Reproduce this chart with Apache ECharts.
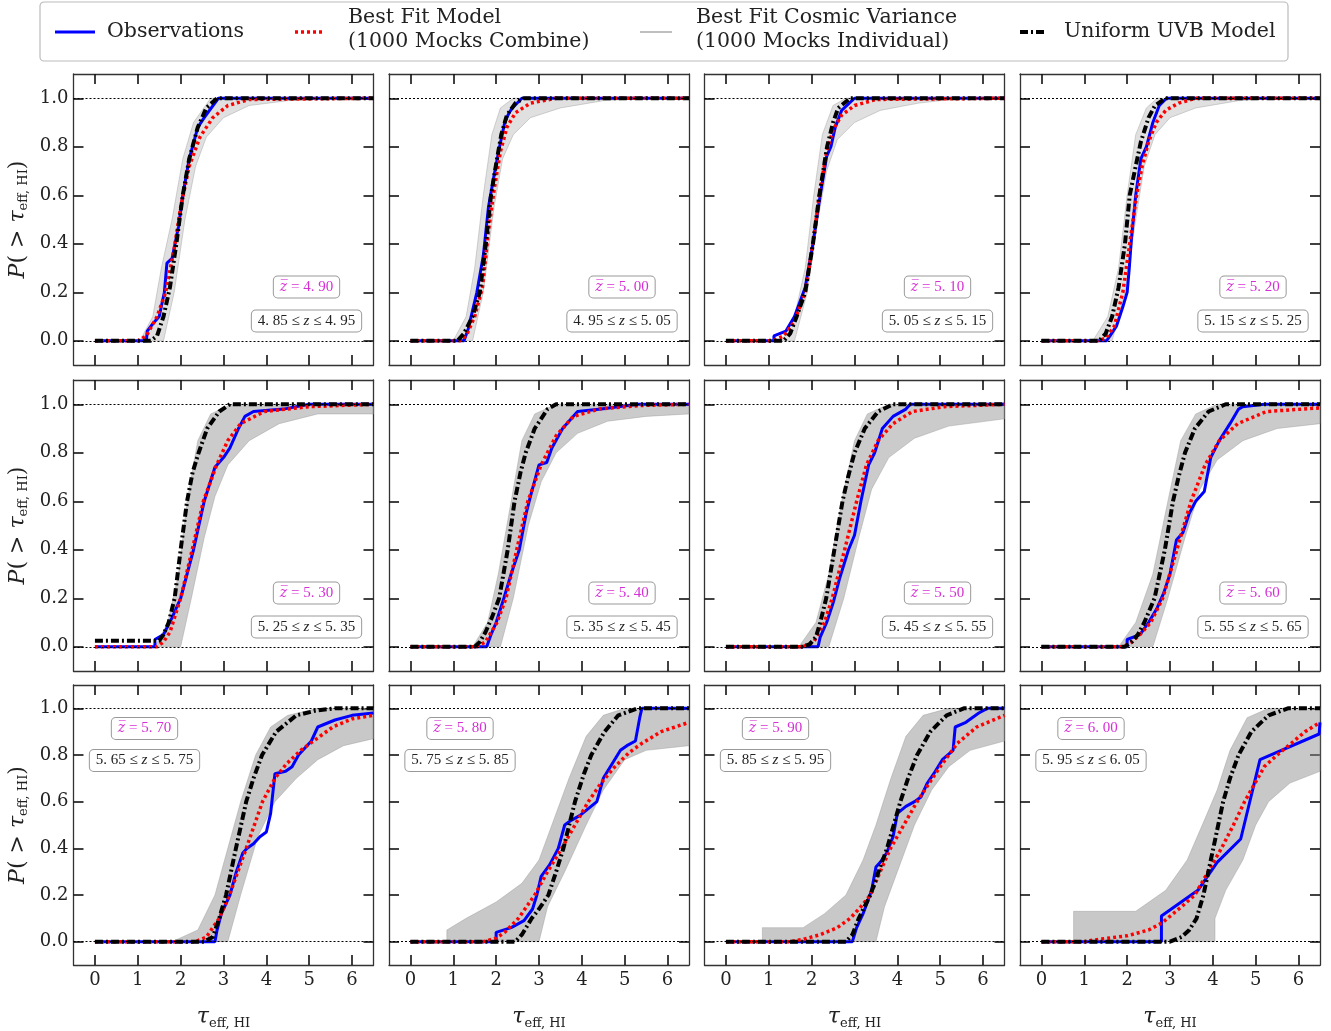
<!DOCTYPE html>
<html>
<head>
<meta charset="utf-8">
<script src="https://cdn.jsdelivr.net/npm/echarts@6/dist/echarts.min.js"></script>
<style>
  html, body { margin: 0; padding: 0; background: #fff; }
  #main { width: 1331px; height: 1031px; }
</style>
</head>
<body>
<div id="main"></div>
<script>
// tick values
const xTicks = [0, 1, 2, 3, 4, 5, 6];
const yTicks = [0.0, 0.2, 0.4, 0.6, 0.8, 1.0];

// redshift bins, one per panel
const zMeans = [4.90, 5.00, 5.10, 5.20, 5.30, 5.40, 5.50, 5.60, 5.70, 5.80, 5.90, 6.00];
const zLow   = [4.85, 4.95, 5.05, 5.15, 5.25, 5.35, 5.45, 5.55, 5.65, 5.75, 5.85, 5.95];
const zHigh  = [4.95, 5.05, 5.15, 5.25, 5.35, 5.45, 5.55, 5.65, 5.75, 5.85, 5.95, 6.05];

// observed P(>tau) curves [tau, P]
const observations = [
  [[0,0],[1.2,0],[1.22,0.04],[1.35,0.07],[1.5,0.1],[1.62,0.2],[1.68,0.32],[1.8,0.34],[1.95,0.47],[2.05,0.6],[2.2,0.75],[2.4,0.88],[2.55,0.92],[2.88,1.0],[6.5,1.0]],
  [[0,0],[1.25,0],[1.35,0.05],[1.55,0.2],[1.7,0.35],[1.82,0.55],[1.95,0.68],[2.08,0.8],[2.2,0.9],[2.3,0.94],[2.38,0.96],[2.6,1.0],[6.5,1.0]],
  [[0,0],[1.12,0],[1.12,0.02],[1.4,0.04],[1.6,0.1],[1.85,0.22],[2.03,0.4],[2.2,0.6],[2.35,0.76],[2.45,0.8],[2.55,0.88],[2.7,0.95],[3.0,1.0],[6.5,1.0]],
  [[0,0],[1.52,0],[1.6,0.02],[1.75,0.06],[1.9,0.14],[2.0,0.2],[2.05,0.3],[2.1,0.42],[2.2,0.6],[2.32,0.75],[2.45,0.8],[2.6,0.9],[2.75,0.97],[2.92,1.0],[6.5,1.0]],
  [[0,0],[1.4,0],[1.4,0.03],[1.6,0.05],[1.8,0.12],[2.0,0.2],[2.3,0.4],[2.55,0.6],[2.8,0.74],[3.0,0.78],[3.15,0.82],[3.35,0.9],[3.5,0.95],[3.7,0.97],[4.4,0.98],[5.0,1.0],[6.5,1.0]],
  [[0,0],[1.78,0],[1.88,0.05],[2.0,0.1],[2.18,0.2],[2.35,0.3],[2.54,0.4],[2.7,0.55],[2.8,0.62],[3.0,0.75],[3.18,0.76],[3.3,0.82],[3.55,0.9],[3.9,0.97],[4.45,0.98],[5.3,1.0],[6.5,1.0]],
  [[0,0],[2.15,0],[2.2,0.04],[2.35,0.1],[2.5,0.18],[2.65,0.28],[2.86,0.4],[3.0,0.46],[3.15,0.6],[3.33,0.75],[3.47,0.8],[3.65,0.9],[3.9,0.95],[4.2,0.98],[4.3,1.0],[6.5,1.0]],
  [[0,0],[2.0,0],[2.0,0.03],[2.3,0.05],[2.5,0.1],[2.7,0.16],[2.85,0.22],[3.0,0.3],[3.15,0.44],[3.3,0.47],[3.45,0.55],[3.6,0.6],[3.8,0.64],[3.95,0.78],[4.15,0.85],[4.4,0.92],[4.6,0.98],[4.7,0.99],[5.2,1.0],[6.5,1.0]],
  [[0,0],[2.8,0],[2.85,0.05],[2.95,0.12],[3.15,0.2],[3.3,0.3],[3.45,0.38],[3.55,0.4],[3.7,0.42],[3.85,0.45],[4.0,0.47],[4.1,0.55],[4.2,0.72],[4.45,0.73],[4.6,0.75],[4.75,0.8],[4.9,0.83],[5.05,0.86],[5.2,0.92],[5.6,0.95],[6.0,0.97],[6.5,0.98]],
  [[0,0],[2.0,0],[2.0,0.04],[2.35,0.06],[2.65,0.09],[2.85,0.14],[2.95,0.2],[3.05,0.28],[3.25,0.33],[3.45,0.4],[3.6,0.5],[3.75,0.52],[3.95,0.54],[4.15,0.57],[4.35,0.6],[4.5,0.7],[4.7,0.76],[4.9,0.82],[5.05,0.84],[5.25,0.86],[5.35,0.96],[5.4,1.0],[6.5,1.0]],
  [[0,0],[2.95,0],[3.05,0.06],[3.2,0.12],[3.4,0.22],[3.5,0.32],[3.6,0.34],[3.75,0.38],[3.9,0.45],[4.0,0.55],[4.2,0.58],[4.4,0.6],[4.55,0.62],[4.7,0.68],[4.85,0.72],[5.05,0.78],[5.3,0.82],[5.35,0.92],[5.6,0.94],[5.9,0.98],[6.1,1.0],[6.5,1.0]],
  [[0,0],[2.8,0],[2.8,0.11],[3.65,0.22],[4.1,0.34],[4.65,0.44],[5.1,0.78],[6.48,0.89],[6.5,0.94]]
];

// best fit model (1000 mocks combined)
const bestFitModel = [
  [[0,0],[1.0,0],[1.2,0.02],[1.45,0.1],[1.65,0.2],[1.85,0.38],[2.0,0.55],[2.2,0.72],[2.45,0.84],[2.75,0.92],[3.1,0.97],[3.6,0.995],[6.5,1.0]],
  [[0,0],[1.15,0],[1.3,0.02],[1.5,0.1],[1.68,0.22],[1.82,0.45],[1.95,0.62],[2.1,0.78],[2.25,0.88],[2.45,0.94],[2.8,0.98],[3.4,1.0],[6.5,1.0]],
  [[0,0],[1.1,0],[1.35,0.02],[1.6,0.08],[1.85,0.2],[2.03,0.4],[2.18,0.6],[2.35,0.78],[2.5,0.87],[2.7,0.93],[3.0,0.97],[3.5,0.995],[6.5,1.0]],
  [[0,0],[1.3,0],[1.5,0.01],[1.7,0.06],[1.9,0.2],[2.06,0.4],[2.22,0.6],[2.35,0.72],[2.5,0.82],[2.68,0.9],[2.9,0.95],[3.2,0.98],[3.6,1.0],[6.5,1.0]],
  [[0,0],[1.45,0],[1.6,0.02],[1.75,0.06],[2.0,0.2],[2.27,0.4],[2.53,0.6],[2.84,0.75],[3.1,0.85],[3.4,0.92],[3.95,0.97],[5.0,0.99],[6.5,1.0]],
  [[0,0],[1.55,0],[1.75,0.02],[2.02,0.1],[2.23,0.2],[2.48,0.4],[2.74,0.6],[3.05,0.75],[3.4,0.87],[3.8,0.95],[4.4,0.98],[5.4,0.995],[6.5,1.0]],
  [[0,0],[1.8,0],[2.05,0.02],[2.3,0.1],[2.48,0.2],[2.77,0.4],[3.05,0.6],[3.28,0.75],[3.55,0.85],[3.9,0.92],[4.35,0.97],[5.1,0.99],[6.5,1.0]],
  [[0,0],[1.9,0],[2.12,0.02],[2.35,0.06],[2.55,0.1],[2.83,0.2],[3.16,0.4],[3.49,0.6],[3.82,0.75],[4.15,0.85],[4.58,0.92],[5.25,0.97],[6.5,0.985]],
  [[0,0],[2.35,0],[2.6,0.02],[2.9,0.1],[3.14,0.2],[3.53,0.4],[3.91,0.6],[4.2,0.7],[4.46,0.76],[4.8,0.82],[5.1,0.86],[5.55,0.92],[6.0,0.955],[6.5,0.97]],
  [[0,0],[1.7,0],[2.0,0.015],[2.2,0.04],[2.52,0.1],[2.9,0.2],[3.2,0.3],[3.53,0.4],[4.15,0.6],[4.45,0.68],[4.77,0.75],[5.1,0.81],[5.4,0.85],[5.85,0.9],[6.5,0.94]],
  [[0,0],[1.5,0],[1.8,0.01],[2.2,0.03],[2.6,0.06],[2.9,0.1],[3.15,0.15],[3.37,0.2],[3.6,0.3],[3.84,0.4],[4.15,0.5],[4.46,0.6],[5.0,0.75],[5.4,0.85],[5.85,0.92],[6.5,0.97]],
  [[0,0],[1.0,0],[1.33,0.01],[2.0,0.025],[2.5,0.05],[2.81,0.08],[3.27,0.15],[3.58,0.2],[3.89,0.3],[4.2,0.4],[4.48,0.5],[4.74,0.6],[5.2,0.75],[5.5,0.8],[5.83,0.85],[6.15,0.9],[6.5,0.94]]
];

// uniform UVB model
const uniformUVB = [
  [[0,0],[1.3,0],[1.45,0.02],[1.6,0.1],[1.75,0.22],[1.9,0.4],[2.05,0.6],[2.2,0.75],[2.4,0.88],[2.6,0.96],[2.85,1.0],[6.5,1.0]],
  [[0,0],[1.1,0],[1.25,0.03],[1.45,0.1],[1.62,0.2],[1.76,0.4],[1.88,0.6],[2.02,0.75],[2.12,0.85],[2.25,0.93],[2.45,0.98],[2.65,1.0],[6.5,1.0]],
  [[0,0],[1.35,0],[1.5,0.03],[1.65,0.1],[1.85,0.2],[2.03,0.4],[2.18,0.6],[2.36,0.8],[2.5,0.9],[2.62,0.96],[2.9,1.0],[6.5,1.0]],
  [[0,0],[1.35,0],[1.5,0.03],[1.65,0.1],[1.8,0.22],[1.95,0.4],[2.06,0.6],[2.2,0.72],[2.32,0.82],[2.5,0.92],[2.65,0.97],[2.9,1.0],[6.5,1.0]],
  [[0,0.025],[1.5,0.025],[1.6,0.05],[1.72,0.1],[1.86,0.2],[2.0,0.4],[2.15,0.6],[2.28,0.72],[2.42,0.8],[2.62,0.9],[2.9,0.97],[3.15,1.0],[6.5,1.0]],
  [[0,0],[1.5,0],[1.62,0.02],[1.75,0.06],[1.9,0.12],[2.07,0.2],[2.27,0.4],[2.43,0.6],[2.57,0.72],[2.69,0.8],[2.9,0.9],[3.2,0.98],[3.4,1.0],[6.5,1.0]],
  [[0,0],[1.8,0],[1.95,0.01],[2.1,0.04],[2.2,0.1],[2.34,0.2],[2.53,0.4],[2.72,0.6],[2.85,0.7],[3.0,0.8],[3.24,0.9],[3.55,0.97],[3.9,1.0],[6.5,1.0]],
  [[0,0],[1.95,0],[2.1,0.02],[2.25,0.05],[2.4,0.1],[2.64,0.2],[2.88,0.4],[3.07,0.6],[3.2,0.7],[3.35,0.8],[3.58,0.9],[3.9,0.97],[4.3,1.0],[6.5,1.0]],
  [[0,0],[2.55,0],[2.75,0.02],[2.9,0.1],[3.06,0.2],[3.29,0.4],[3.53,0.6],[3.7,0.7],[3.9,0.8],[4.23,0.9],[4.7,0.97],[5.15,0.99],[5.6,1.0],[6.5,1.0]],
  [[0,0],[2.45,0],[2.6,0.03],[2.83,0.1],[3.0,0.14],[3.22,0.2],[3.4,0.3],[3.57,0.4],[3.84,0.6],[4.05,0.72],[4.22,0.8],[4.53,0.9],[4.85,0.97],[5.3,1.0],[6.5,1.0]],
  [[0,0],[2.8,0],[2.95,0.03],[3.1,0.1],[3.37,0.2],[3.6,0.32],[3.76,0.4],[4.07,0.6],[4.25,0.7],[4.46,0.8],[4.77,0.9],[5.15,0.97],[5.55,1.0],[6.5,1.0]],
  [[0,0],[3.0,0],[3.27,0.02],[3.45,0.05],[3.62,0.1],[3.78,0.2],[4.01,0.4],[4.24,0.6],[4.4,0.7],[4.6,0.8],[4.9,0.9],[5.3,0.97],[5.75,1.0],[6.5,1.0]]
];

// envelope of the 1000 individual mocks: earliest (left) and latest (right) edges
const mockLeftEdge = [
  [[1.05,0],[1.35,0.1],[1.55,0.3],[1.8,0.5],[2.05,0.75],[2.3,0.9],[2.7,1.0],[6.5,1.0]],
  [[1.0,0],[1.3,0.1],[1.5,0.3],[1.7,0.6],[1.9,0.85],[2.1,0.96],[2.4,1.0],[6.5,1.0]],
  [[1.3,0],[1.6,0.1],[1.85,0.3],[2.05,0.6],[2.25,0.85],[2.5,0.97],[2.8,1.0],[6.5,1.0]],
  [[1.2,0],[1.55,0.1],[1.8,0.3],[2.0,0.6],[2.2,0.85],[2.45,0.96],[2.7,1.0],[6.5,1.0]],
  [[1.4,0],[1.7,0.1],[1.95,0.3],[2.15,0.6],[2.4,0.85],[2.7,0.96],[3.2,1.0],[6.5,1.0]],
  [[1.45,0],[1.8,0.1],[2.05,0.3],[2.35,0.6],[2.6,0.85],[2.9,0.96],[3.4,1.0],[6.5,1.0]],
  [[1.7,0],[2.1,0.1],[2.4,0.3],[2.7,0.6],[3.0,0.85],[3.3,0.96],[3.8,1.0],[6.5,1.0]],
  [[1.8,0],[2.2,0.1],[2.6,0.3],[2.95,0.6],[3.25,0.85],[3.6,0.96],[4.1,1.0],[6.5,1.0]],
  [[1.8,0],[2.4,0.05],[2.8,0.2],[3.1,0.4],[3.4,0.6],[3.75,0.8],[4.1,0.92],[4.5,0.97],[5.2,1.0],[6.5,1.0]],
  [[0.85,0],[0.85,0.05],[1.3,0.1],[2.0,0.17],[2.6,0.25],[3.0,0.35],[3.3,0.5],[3.7,0.7],[4.1,0.88],[4.5,0.97],[5.0,1.0],[6.5,1.0]],
  [[0.85,0],[0.85,0.06],[1.8,0.06],[2.3,0.12],[2.8,0.2],[3.2,0.35],[3.5,0.5],[3.85,0.7],[4.2,0.88],[4.6,0.97],[5.2,1.0],[6.5,1.0]],
  [[0.75,0],[0.75,0.13],[2.2,0.13],[2.9,0.22],[3.4,0.35],[3.8,0.52],[4.1,0.65],[4.4,0.82],[4.8,0.96],[5.3,1.0],[6.5,1.0]]
];
const mockRightEdge = [
  [[1.6,0],[1.85,0.2],[2.1,0.5],[2.35,0.72],[2.6,0.84],[3.0,0.92],[3.6,0.97],[4.5,0.99],[5.5,1.0]],
  [[1.45,0],[1.7,0.2],[1.95,0.55],[2.15,0.75],[2.4,0.85],[2.8,0.92],[3.5,0.96],[4.5,0.99],[5.5,1.0]],
  [[1.6,0],[1.9,0.2],[2.15,0.5],[2.35,0.7],[2.6,0.83],[3.0,0.9],[3.6,0.95],[4.5,0.98],[5.5,1.0]],
  [[1.65,0],[1.95,0.2],[2.2,0.5],[2.4,0.72],[2.65,0.85],[3.0,0.92],[3.6,0.96],[4.6,0.99],[5.5,1.0]],
  [[2.0,0],[2.25,0.2],[2.55,0.45],[2.8,0.62],[3.1,0.75],[3.6,0.85],[4.3,0.92],[5.2,0.96],[6.5,0.96]],
  [[2.1,0],[2.4,0.2],[2.75,0.5],[3.05,0.68],[3.4,0.8],[3.9,0.88],[4.6,0.93],[5.5,0.95],[6.5,0.96]],
  [[2.4,0],[2.75,0.2],[3.1,0.45],[3.4,0.65],[3.8,0.78],[4.4,0.86],[5.2,0.91],[6.5,0.94]],
  [[2.6,0],[2.95,0.2],[3.35,0.45],[3.7,0.65],[4.1,0.77],[4.7,0.85],[5.5,0.9],[6.5,0.92]],
  [[3.1,0],[3.4,0.2],[3.8,0.45],[4.2,0.6],[4.7,0.7],[5.2,0.78],[5.8,0.84],[6.5,0.87]],
  [[3.0,0],[3.2,0.15],[3.6,0.3],[4.1,0.5],[4.5,0.65],[5.0,0.78],[5.5,0.82],[6.5,0.84]],
  [[3.5,0],[3.7,0.15],[4.0,0.3],[4.4,0.5],[4.8,0.65],[5.2,0.75],[5.7,0.82],[6.5,0.86]],
  [[4.05,0],[4.05,0.1],[4.3,0.22],[4.7,0.35],[5.0,0.5],[5.3,0.6],[5.8,0.68],[6.5,0.73]]
];

// panel layout
const colLeft = [73.5, 389, 704.5, 1020];
const rowTop = [74, 380, 685];
const panelW = 300;
const panelH = 291;
const serif = 'DejaVu Serif';
const bandFill = ['rgba(160,160,160,0.32)', 'rgba(140,140,140,0.45)', 'rgba(140,140,140,0.48)'];

const chart = echarts.init(document.getElementById('main'));

const grids = [], xAxes = [], yAxes = [], series = [], graphics = [];

const fmtZ = v => v.toFixed(2).replace('.', '. ');

for (let i = 0; i < 12; i++) {
  const row = Math.floor(i / 4), col = i % 4;
  grids.push({ left: colLeft[col], top: rowTop[row], width: panelW, height: panelH });

  const tickStyle = { show: true, inside: true, length: 10, lineStyle: { color: '#111', width: 1.6 } };
  const lineStyle = { show: true, onZero: false, lineStyle: { color: '#333', width: 1.3 } };

  xAxes.push({
    type: 'value', gridIndex: i, min: -0.5, max: 6.5, position: 'bottom',
    axisLine: lineStyle,
    axisTick: Object.assign({ customValues: xTicks }, tickStyle),
    axisLabel: { show: row === 2, customValues: xTicks, fontFamily: serif, fontSize: 18, color: '#222', margin: 6 },
    splitLine: { show: false },
    name: row === 2 ? '{it|τ}{sub|eff, HI}' : '',
    nameLocation: 'middle', nameGap: 40,
    nameTextStyle: {
      rich: {
        it: { fontFamily: serif, fontStyle: 'italic', fontSize: 22, color: '#222' },
        sub: { fontFamily: serif, fontSize: 13, color: '#222', verticalAlign: 'bottom', padding: [12, 0, 0, 0] }
      }
    }
  });
  xAxes.push({
    type: 'value', gridIndex: i, min: -0.5, max: 6.5, position: 'top',
    axisLine: lineStyle,
    axisTick: Object.assign({ customValues: xTicks }, tickStyle),
    axisLabel: { show: false },
    splitLine: { show: false }
  });
  yAxes.push({
    type: 'value', gridIndex: i, min: -0.1, max: 1.1, position: 'left',
    axisLine: lineStyle,
    axisTick: Object.assign({ customValues: yTicks }, tickStyle),
    axisLabel: {
      show: col === 0, customValues: yTicks, fontFamily: serif, fontSize: 18, color: '#222', margin: 5,
      formatter: v => v.toFixed(1)
    },
    splitLine: { show: false },
    name: col === 0 ? '{it|P}{n|( > }{it|τ}{sub|eff, HI}{n|)}' : '',
    nameLocation: 'middle', nameGap: 43, nameRotate: 90,
    nameTextStyle: {
      rich: {
        it: { fontFamily: serif, fontStyle: 'italic', fontSize: 22, color: '#222' },
        n: { fontFamily: serif, fontSize: 22, color: '#222' },
        sub: { fontFamily: serif, fontSize: 13, color: '#222', verticalAlign: 'bottom', padding: [12, 0, 0, 0] }
      }
    }
  });
  yAxes.push({
    type: 'value', gridIndex: i, min: -0.1, max: 1.1, position: 'right',
    axisLine: lineStyle,
    axisTick: Object.assign({ customValues: yTicks }, tickStyle),
    axisLabel: { show: false },
    splitLine: { show: false }
  });

  const xi = 2 * i, yi = 2 * i;

  // gray envelope of individual mocks
  series.push({
    type: 'custom', xAxisIndex: xi, yAxisIndex: yi, silent: true, z: 1,
    data: [[0, 0]],
    renderItem: (params, api) => {
      const pts = mockLeftEdge[i].concat(mockRightEdge[i].slice().reverse()).map(p => api.coord(p));
      return {
        type: 'polygon', shape: { points: pts },
        style: { fill: bandFill[row], stroke: 'rgba(150,150,150,0.5)', lineWidth: 0.8 }
      };
    }
  });
  series.push({
    type: 'line', xAxisIndex: xi, yAxisIndex: yi, data: observations[i], z: 3,
    showSymbol: false, silent: true,
    lineStyle: { color: '#0000ff', width: 3 },
    markLine: {
      silent: true, symbol: ['none', 'none'], label: { show: false },
      lineStyle: { color: '#000', width: 1, type: [2, 2] },
      data: [{ yAxis: 0 }, { yAxis: 1 }]
    }
  });
  series.push({
    type: 'line', xAxisIndex: xi, yAxisIndex: yi, data: bestFitModel[i], z: 4,
    showSymbol: false, silent: true,
    lineStyle: { color: '#ff0000', width: 3.5, type: [3, 3] }
  });
  series.push({
    type: 'line', xAxisIndex: xi, yAxisIndex: yi, data: uniformUVB[i], z: 5,
    showSymbol: false, silent: true,
    lineStyle: { color: '#000000', width: 4, type: [8, 3, 2, 3] }
  });

  // redshift annotation boxes
  const bx = colLeft[col] + (row === 2 ? 71 : 233);
  const by1 = rowTop[row] + (row === 2 ? 43.5 : 213);
  const by2 = rowTop[row] + (row === 2 ? 75.5 : 247);
  graphics.push({
    type: 'text', x: bx, y: by1, z: 100,
    style: {
      text: '{i|z\u0305}{n| = ' + fmtZ(zMeans[i]) + '}',
      align: 'center', verticalAlign: 'middle',
      backgroundColor: '#fff', borderColor: '#999', borderWidth: 1, borderRadius: 4,
      padding: [3, 6, 3, 6],
      rich: {
        i: { fontFamily: serif, fontStyle: 'italic', fontSize: 14, fill: '#d62fd6' },
        n: { fontFamily: 'Liberation Serif', fontSize: 15, fill: '#d62fd6' }
      }
    }
  });
  graphics.push({
    type: 'text', x: bx, y: by2, z: 100,
    style: {
      text: '{n|' + fmtZ(zLow[i]) + ' ≤ }{i|z}{n| ≤ ' + fmtZ(zHigh[i]) + '}',
      align: 'center', verticalAlign: 'middle',
      backgroundColor: '#fff', borderColor: '#999', borderWidth: 1, borderRadius: 4,
      padding: [3, 6, 3, 6],
      rich: {
        i: { fontFamily: 'Liberation Serif', fontStyle: 'italic', fontSize: 15, fill: '#222' },
        n: { fontFamily: 'Liberation Serif', fontSize: 15, fill: '#222' }
      }
    }
  });
}

// legend box drawn by hand to match layout
const legendFont = '20.5px "DejaVu Serif"';
graphics.push(
  { type: 'rect', shape: { x: 40, y: 2, width: 1248, height: 59, r: 4 }, style: { fill: '#fff', stroke: '#bbb', lineWidth: 1.2 }, z: 90 },
  { type: 'line', shape: { x1: 55, y1: 32, x2: 95, y2: 32 }, style: { stroke: '#0000ff', lineWidth: 3 }, z: 91 },
  { type: 'text', x: 107, y: 32, style: { text: 'Observations', font: legendFont, fill: '#222', verticalAlign: 'middle' }, z: 91 },
  { type: 'line', shape: { x1: 295, y1: 32, x2: 325, y2: 32 }, style: { stroke: '#ff0000', lineWidth: 3.5, lineDash: [3, 3] }, z: 91 },
  { type: 'text', x: 348, y: 30, style: { text: 'Best Fit Model\n(1000 Mocks Combine)', font: legendFont, lineHeight: 24, fill: '#222', verticalAlign: 'middle' }, z: 91 },
  { type: 'line', shape: { x1: 640, y1: 32, x2: 672, y2: 32 }, style: { stroke: '#aaa', lineWidth: 1.5 }, z: 91 },
  { type: 'text', x: 696, y: 30, style: { text: 'Best Fit Cosmic Variance\n(1000 Mocks Individual)', font: legendFont, lineHeight: 24, fill: '#222', verticalAlign: 'middle' }, z: 91 },
  { type: 'line', shape: { x1: 1020, y1: 32, x2: 1045, y2: 32 }, style: { stroke: '#000', lineWidth: 4, lineDash: [8, 3, 2, 3] }, z: 91 },
  { type: 'text', x: 1064, y: 32, style: { text: 'Uniform UVB Model', font: legendFont, fill: '#222', verticalAlign: 'middle' }, z: 91 }
);

chart.setOption({
  animation: false,
  backgroundColor: '#fff',
  grid: grids,
  xAxis: xAxes,
  yAxis: yAxes,
  series: series,
  graphic: graphics
});
</script>
</body>
</html>
